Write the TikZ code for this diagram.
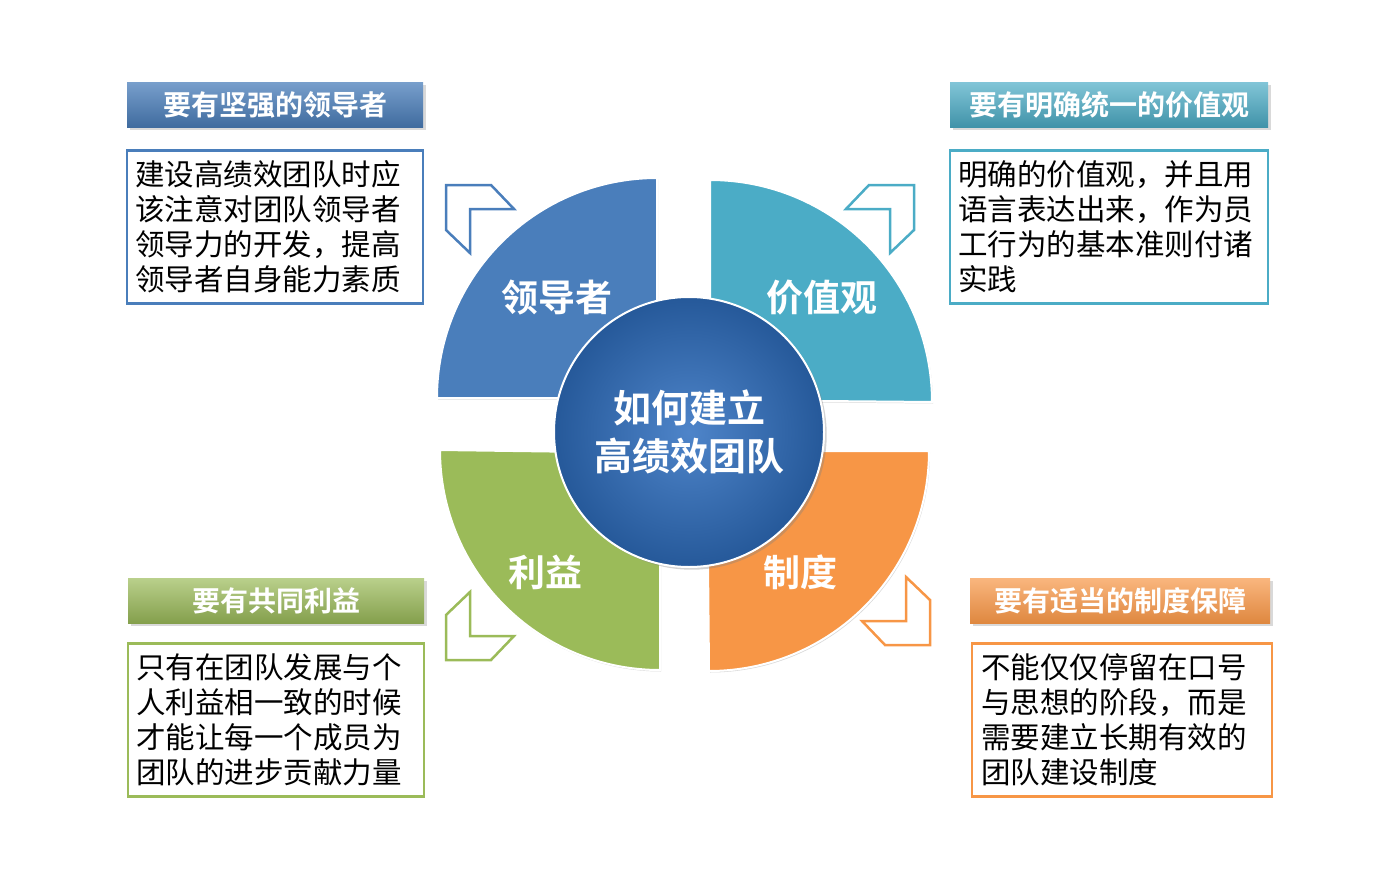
\documentclass[tikz,border=0pt]{standalone}
\usepackage{fontspec}
\setmainfont{Noto Sans CJK SC}
\newfontfamily\cjkb{Noto Sans CJK SC Bold}
\usetikzlibrary{shadows}
\definecolor{qblue}{HTML}{4A7EBB}
\definecolor{qteal}{HTML}{4BACC6}
\definecolor{qgreen}{HTML}{9BBB59}
\definecolor{qorange}{HTML}{F79646}
\definecolor{cblue}{HTML}{2F6FC0}
\begin{document}
\begin{tikzpicture}[x=1pt,y=-1pt,
  quad/.style={draw=white,line width=2pt,drop shadow={opacity=0.3,shadow xshift=1pt,shadow yshift=-1.5pt}},
  qlabel/.style={text=white,font=\cjkb\fontsize{37}{40}\selectfont},
  title/.style={minimum width=296pt,minimum height=45pt,inner sep=0pt,text=white,font=\cjkb\fontsize{28}{30}\selectfont,drop shadow={opacity=0.3}},
  body/.style={draw=#1,line width=2.2pt,fill=white,minimum width=296pt,minimum height=153pt,text width=280pt,align=left,inner sep=0pt,font=\fontsize{29.5}{35}\selectfont},
  chev/.style={draw=#1,line width=2.5pt,line join=miter}]
\useasboundingbox (0,0) rectangle (1400,883);
% quadrants
\fill[qblue,quad] (657,398) -- (437,398) arc[start angle=180,end angle=270,radius=220] -- cycle;
\fill[qteal,quad] (710,400) -- (710,180) arc[start angle=270,end angle=360,radius=222] -- cycle;
\fill[qgreen,quad] (660,453) -- (660,670) arc[start angle=90,end angle=180,radius=220] -- cycle;
\fill[qorange,quad] (707,451) -- (929,451) arc[start angle=0,end angle=90,radius=220] -- cycle;
\node[qlabel] (l1) at (557,298) {领导者};
\node[qlabel] (l2) at (822,298) {价值观};
\node[qlabel] (l3) at (545,572) {利益};
\node[qlabel] (l4) at (800,572) {制度};
% center
\shade[inner color=cblue!85!white,outer color=cblue!80!black,draw=white,line width=2pt,drop shadow={opacity=0.35}] (689,432) circle[radius=135];
\node[text=white,align=center,font=\cjkb\fontsize{38}{48}\selectfont] (c) at (689,432) {如何建立\\高绩效团队};
% chevrons
\draw[chev=qblue] (446,185) -- (491,185) -- (514,209) -- (470,209) -- (470,253) -- (446,230) -- cycle;
\draw[chev=qteal] (914,185) -- (869,185) -- (846,209) -- (890,209) -- (890,253) -- (914,230) -- cycle;
\draw[chev=qgreen] (446,660) -- (491,660) -- (514,636) -- (470,636) -- (470,592) -- (446,615) -- cycle;
\draw[chev=qorange] (930,645) -- (885,645) -- (862,621) -- (906,621) -- (906,577) -- (930,600) -- cycle;
% titles
\node[title,top color=qblue!75!white,bottom color=qblue!85!black] (t1) at (275,105) {要有坚强的领导者};
\node[title,top color=qteal!70!white,bottom color=qteal!85!black,minimum width=318pt] (t2) at (1109,105) {要有明确统一的价值观};
\node[title,top color=qgreen!70!white,bottom color=qgreen!85!black] (t3) at (276,601) {要有共同利益};
\node[title,top color=qorange!70!white,bottom color=qorange!90!black,minimum width=300pt] (t4) at (1120,601) {要有适当的制度保障};
% bodies
\node[body=qblue] (b1) at (275,227) {建设高绩效团队时应\\该注意对团队领导者\\领导力的开发，提高\\领导者自身能力素质};
\node[body=qteal,minimum width=318pt,text width=302pt] (b2) at (1109,227) {明确的价值观，并且用\\语言表达出来，作为员\\工行为的基本准则付诸\\实践};
\node[body=qgreen] (b3) at (276,720) {只有在团队发展与个\\人利益相一致的时候\\才能让每一个成员为\\团队的进步贡献力量};
\node[body=qorange,minimum width=300pt,text width=282pt] (b4) at (1122,720) {不能仅仅停留在口号\\与思想的阶段，而是\\需要建立长期有效的\\团队建设制度};
\end{tikzpicture}
\end{document}
